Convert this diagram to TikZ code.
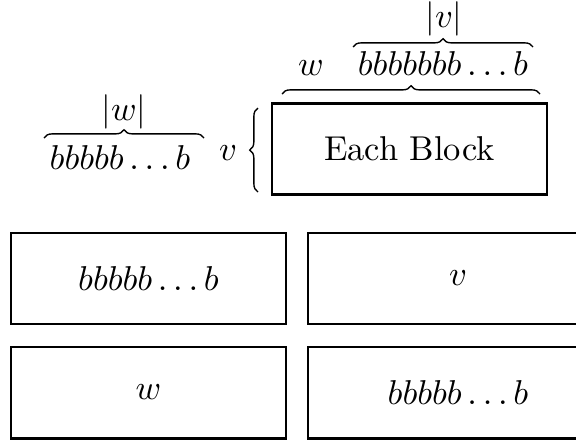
\documentclass[tikz,border=0pt]{standalone}
\usepackage{amsmath}
\usetikzlibrary{decorations.pathreplacing}
\begin{document}
\begin{tikzpicture}[x=0.29pt,y=-0.29pt,
  block/.style={draw, line width=0.75pt, inner sep=0pt,
                minimum width=79.75pt, minimum height=26.5pt},
  wideblock/.style={block, minimum width=87pt},
  label/.style={inner sep=0pt, anchor=base},
  curly/.style={decorate, line width=0.4pt,
                decoration={brace, amplitude=2.4pt}}]
  \useasboundingbox (0,0) rectangle (576,442);

  % the block and its dimensions
  \node[block] (each) at (409.5,149) {Each Block};
  \node[label] (wtop) at (311,75) {$w$};
  \node[label] (vstr) at (443,75) {$bbbbbbb\ldots b$};
  \node[label] (vlen) at (444,27.5) {$|v|$};
  \coordinate (tb1) at (282,94);
  \coordinate (tb2) at (540,94);
  \coordinate (vb1) at (353,47);
  \coordinate (vb2) at (533,47);
  \draw[curly] (tb1) -- (tb2);
  \draw[curly] (vb1) -- (vb2);

  % height of the block
  \node[label] (vside) at (228,160) {$v$};
  \coordinate (sb1) at (258,192);
  \coordinate (sb2) at (258,108);
  \draw[curly] (sb1) -- (sb2);
  \node[label] (wstr) at (120,169) {$bbbbb\ldots b$};
  \node[label] (wlen) at (124,120) {$|w|$};
  \coordinate (wb1) at (44,138);
  \coordinate (wb2) at (204,138);
  \draw[curly] (wb1) -- (wb2);

  % the four parts
  \node[block] (ul) at (148.5,278.5) {$bbbbb\ldots b$};
  \node[wideblock] (ur) at (458,278.5) {$v$};
  \node[block] (ll) at (148.5,392.5) {$w$};
  \node[wideblock] (lr) at (458,392.5) {$bbbbb\ldots b$};
\end{tikzpicture}
\end{document}
